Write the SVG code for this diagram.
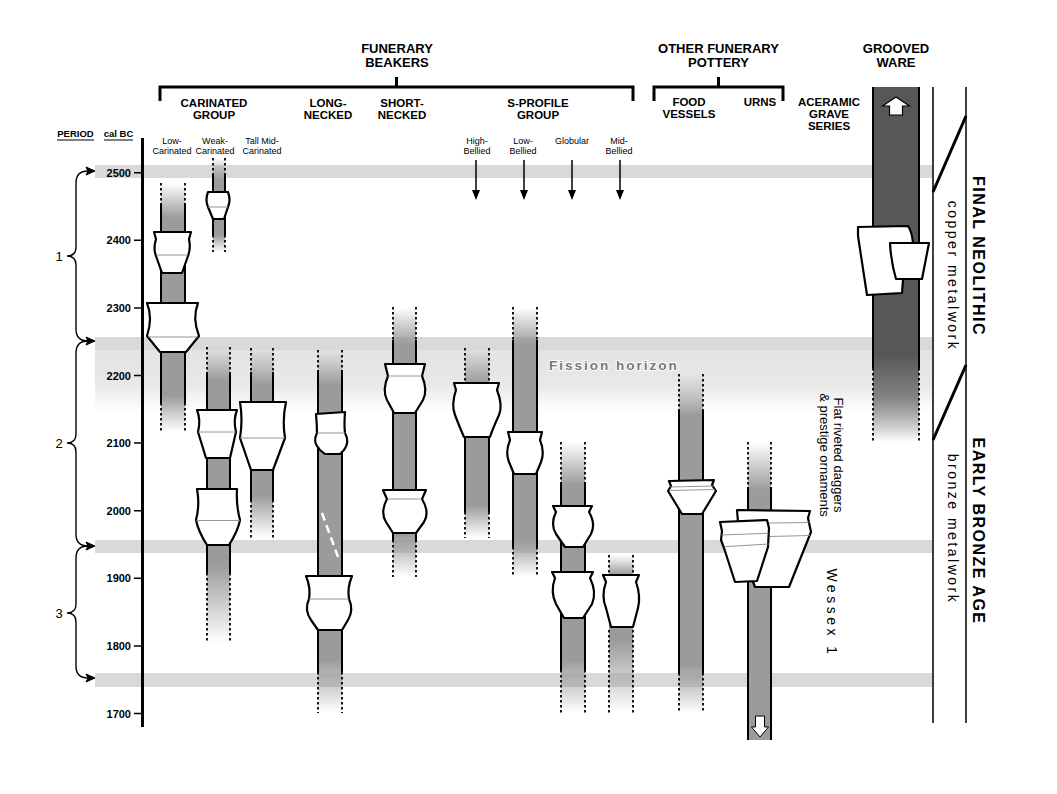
<svg xmlns="http://www.w3.org/2000/svg" width="1057" height="794" viewBox="0 0 1057 794">
<style>
text{font-family:"Liberation Sans",Arial,sans-serif;fill:#000}
.h1{font-size:13px;font-weight:bold;text-anchor:middle}
.h2{font-size:11.5px;font-weight:bold;text-anchor:middle}
.sub{font-size:9px;text-anchor:middle}
.tick{font-size:11px;font-weight:bold;text-anchor:end}
.sl{stroke:#000;stroke-width:2;fill:none}
.dl{stroke:#000;stroke-width:1.8;stroke-dasharray:2.5 2.5;fill:none}
.pot{fill:#fff;stroke:#000;stroke-width:2.2;stroke-linejoin:round}
.mid{stroke:#8a8a8a;stroke-width:0.9;fill:none}
.band{fill:#d9d9d9}
.br{stroke:#000;stroke-width:1.4;fill:none}
</style>
<defs>
<linearGradient id="fin" x1="0" y1="0" x2="0" y2="1"><stop offset="0" stop-color="#9b9b9b" stop-opacity="0"/><stop offset="1" stop-color="#9b9b9b"/></linearGradient>
<linearGradient id="fout" x1="0" y1="0" x2="0" y2="1"><stop offset="0" stop-color="#9b9b9b"/><stop offset="1" stop-color="#9b9b9b" stop-opacity="0"/></linearGradient>
<linearGradient id="gout" x1="0" y1="0" x2="0" y2="1"><stop offset="0" stop-color="#575757"/><stop offset="0.45" stop-color="#808080"/><stop offset="1" stop-color="#575757" stop-opacity="0"/></linearGradient>
<linearGradient id="fission" x1="0" y1="0" x2="0" y2="1"><stop offset="0" stop-color="#e3e3e3"/><stop offset="0.55" stop-color="#e8e8e8"/><stop offset="1" stop-color="#ffffff"/></linearGradient>
</defs>
<rect width="1057" height="794" fill="#fff"/>

<g id="bands">
<rect class="band" x="95" y="165" width="838" height="13"/>
<rect class="band" x="95" y="337" width="838" height="13"/>
<rect x="95" y="350" width="838" height="62" fill="url(#fission)"/>
<rect class="band" x="95" y="540" width="838" height="13"/>
<rect class="band" x="95" y="673" width="838" height="14"/>
</g>

<g id="headers">
<text class="h1" x="397" y="53">FUNERARY</text>
<text class="h1" x="397" y="67">BEAKERS</text>
<text class="h2" x="214" y="107">CARINATED</text>
<text class="h2" x="214" y="119">GROUP</text>
<text class="h2" x="328" y="107">LONG-</text>
<text class="h2" x="328" y="119">NECKED</text>
<text class="h2" x="402" y="107">SHORT-</text>
<text class="h2" x="402" y="119">NECKED</text>
<text class="h2" x="538" y="107">S-PROFILE</text>
<text class="h2" x="538" y="119">GROUP</text>
<text class="h1" x="718.5" y="53">OTHER FUNERARY</text>
<text class="h1" x="718.5" y="67">POTTERY</text>
<text class="h2" x="689" y="106">FOOD</text>
<text class="h2" x="689" y="118">VESSELS</text>
<text class="h2" x="760" y="106">URNS</text>
<text class="h2" x="829" y="106">ACERAMIC</text>
<text class="h2" x="829" y="118">GRAVE</text>
<text class="h2" x="829" y="130">SERIES</text>
<text class="h1" x="896" y="53">GROOVED</text>
<text class="h1" x="896" y="67">WARE</text>
<path d="M160,101V87H633V101M396.5,87V77" stroke="#000" stroke-width="3" fill="none"/>
<path d="M654,101V87H783V101M718.5,87V77" stroke="#000" stroke-width="3" fill="none"/>
<text x="75.5" y="137" style="font-size:9.5px;font-weight:bold;text-anchor:middle">PERIOD</text>
<text x="118.5" y="137" style="font-size:9.5px;font-weight:bold;text-anchor:middle">cal BC</text>
<path d="M57,140H94M104,140H133" stroke="#000" stroke-width="1"/>
<text class="sub" x="172" y="144">Low-</text><text class="sub" x="172" y="154">Carinated</text>
<text class="sub" x="215" y="144">Weak-</text><text class="sub" x="215" y="154">Carinated</text>
<text class="sub" x="262" y="144">Tall Mid-</text><text class="sub" x="262" y="154">Carinated</text>
<text class="sub" x="477" y="144">High-</text><text class="sub" x="477" y="154">Bellied</text>
<text class="sub" x="523" y="144">Low-</text><text class="sub" x="523" y="154">Bellied</text>
<text class="sub" x="572" y="144">Globular</text>
<text class="sub" x="619" y="144">Mid-</text><text class="sub" x="619" y="154">Bellied</text>
</g>

<g id="axis">
<path d="M142.5,138V727" stroke="#000" stroke-width="3"/>
<path d="M134,172.7H142M134,240.3H142M134,307.9H142M134,375.5H142M134,443.1H142M134,510.7H142M134,578.3H142M134,645.9H142M134,713.5H142" stroke="#000" stroke-width="1.5"/>
<text class="tick" x="131" y="176.7">2500</text>
<text class="tick" x="131" y="244.3">2400</text>
<text class="tick" x="131" y="311.9">2300</text>
<text class="tick" x="131" y="379.5">2200</text>
<text class="tick" x="131" y="447.1">2100</text>
<text class="tick" x="131" y="514.7">2000</text>
<text class="tick" x="131" y="582.3">1900</text>
<text class="tick" x="131" y="649.9">1800</text>
<text class="tick" x="131" y="717.5">1700</text>
</g>

<g id="periods">
<text x="59" y="261" style="font-size:13px;text-anchor:middle">1</text>
<text x="59" y="448" style="font-size:13px;text-anchor:middle">2</text>
<text x="59" y="618" style="font-size:13px;text-anchor:middle">3</text>
</g>

<g id="col-low-carinated">
<rect x="161" y="183" width="24" height="35" fill="url(#fin)"/>
<rect x="161" y="218" width="24" height="177" fill="#9b9b9b"/>
<rect x="161" y="395" width="24" height="37" fill="url(#fout)"/>
<path class="dl" d="M161,183V203M185,183V203M161,403V432M185,403V432"/>
<path class="sl" d="M161,203V403M185,203V403"/>
<path class="pot" d="M154,232L191,232L189,239Q191,249 188,256L182,273L162,273L156,256Q153,249 156,239Z"/>
<path class="mid" d="M156,255H188"/>
<path class="pot" d="M147,303L198,303Q192,318 199,336L186,352L160,352L147,336Q153,318 147,303Z"/>
<path class="mid" d="M148,337H198"/>
</g>

<g id="col-weak-carinated-early">
<rect x="213" y="158" width="12" height="22" fill="url(#fin)"/>
<rect x="213" y="180" width="12" height="55" fill="#9b9b9b"/>
<rect x="213" y="235" width="12" height="17" fill="url(#fout)"/>
<path class="dl" d="M213,158V175M225,158V175M213,235V252M225,235V252"/>
<path class="sl" d="M213,175V235M225,175V235"/>
<path class="pot" d="M208,192L228,192Q231,200 228,207L224,219L213,219L208,207Q205,200 208,192Z"/>
<path class="mid" d="M208,207H228"/>
</g>

<g id="col-weak-carinated">
<rect x="207" y="347" width="23" height="33" fill="url(#fin)"/>
<rect x="207" y="380" width="23" height="185" fill="#9b9b9b"/>
<rect x="207" y="565" width="23" height="78" fill="url(#fout)"/>
<path class="dl" d="M207,347V372M230,347V372M207,573V643M230,573V643"/>
<path class="sl" d="M207,372V573M230,372V573"/>
<path class="pot" d="M197,410L237,410Q233,420 236,432L230,458L206,458L198,432Q201,420 197,410Z"/>
<path class="mid" d="M198,432H236"/>
<path class="pot" d="M197,489L237,489Q236,505 240,520Q238,531 229,545L207,545Q198,531 196,520Q200,505 197,489Z"/>
<path class="mid" d="M196,520.5H240"/>
</g>

<g id="col-tall-mid-carinated">
<rect x="251" y="348" width="22" height="37" fill="url(#fin)"/>
<rect x="251" y="385" width="22" height="110" fill="#9b9b9b"/>
<rect x="251" y="495" width="22" height="43" fill="url(#fout)"/>
<path class="dl" d="M251,348V372M273,348V372M251,500V538M273,500V538"/>
<path class="sl" d="M251,372V500M273,372V500"/>
<path class="pot" d="M240,402L286,402Q282,420 285,438L273,470L251,470L240,438Q243,420 240,402Z"/>
<path class="mid" d="M240,438H285"/>
</g>

<g id="col-long-necked">
<rect x="318" y="350" width="24" height="35" fill="url(#fin)"/>
<rect x="318" y="385" width="24" height="275" fill="#9b9b9b"/>
<rect x="318" y="660" width="24" height="53" fill="url(#fout)"/>
<path class="dl" d="M318,350V370M342,350V370M318,672V713M342,672V713"/>
<path class="sl" d="M318,370V672M342,370V672"/>
<path class="pot" d="M316,414L345,412Q344,425 345,433Q350,442 344,450L340,454L325,454L320,450Q312,442 317,433Q317,425 316,414Z"/>
<path class="mid" d="M317,433H345"/>
<path d="M322,513L338,557" stroke="#fff" stroke-width="2.5" stroke-dasharray="8 5"/>
<path class="pot" d="M306,576L352,576Q347,588 349,599Q354,610 348,620L342,630L318,630L311,620Q304,610 309,599Q311,588 306,576Z"/>
<path class="mid" d="M309,599H349"/>
</g>

<g id="col-short-necked">
<rect x="393" y="307" width="23" height="38" fill="url(#fin)"/>
<rect x="393" y="345" width="23" height="190" fill="#9b9b9b"/>
<rect x="393" y="535" width="23" height="42" fill="url(#fout)"/>
<path class="dl" d="M393,307V340M416,307V340M393,540V577M416,540V577"/>
<path class="sl" d="M393,340V540M416,340V540"/>
<path class="pot" d="M385,364L425,364L422,376Q428,390 423,400L415,413L394,413L387,400Q382,390 388,376Z"/>
<path class="mid" d="M388,376H422"/>
<path class="pot" d="M383,490L426,490L422,499Q430,512 424,522L416,533L393,533L386,522Q380,512 387,499Z"/>
<path class="mid" d="M387,499H422"/>
</g>

<g id="col-high-bellied">
<rect x="465" y="348" width="24" height="35" fill="url(#fin)"/>
<rect x="465" y="383" width="24" height="122" fill="#9b9b9b"/>
<rect x="465" y="505" width="24" height="33" fill="url(#fout)"/>
<path class="dl" d="M465,348V382M489,348V382M465,512V538M489,512V538"/>
<path class="sl" d="M465,437V512M489,437V512"/>
<path class="pot" d="M454,383L499,383L497,390Q503,405 499,415Q493,428 490,437L464,437Q460,428 455,415Q451,405 456,390Z"/>
</g>

<g id="col-low-bellied">
<rect x="513" y="307" width="24" height="38" fill="url(#fin)"/>
<rect x="513" y="345" width="24" height="195" fill="#9b9b9b"/>
<rect x="513" y="540" width="24" height="37" fill="url(#fout)"/>
<path class="dl" d="M513,307V340M537,307V340M513,547V577M537,547V577"/>
<path class="sl" d="M513,340V547M537,340V547"/>
<path class="pot" d="M508,432L542,432L540,440Q545,452 541,462L536,474L514,474L509,462Q505,452 510,440Z"/>
</g>

<g id="col-globular">
<rect x="561" y="442" width="24" height="43" fill="url(#fin)"/>
<rect x="561" y="485" width="24" height="175" fill="#9b9b9b"/>
<rect x="561" y="660" width="24" height="53" fill="url(#fout)"/>
<path class="dl" d="M561,442V482M585,442V482M561,670V713M585,670V713"/>
<path class="sl" d="M561,482V670M585,482V670"/>
<path class="pot" d="M553,506L592,506L589,512Q596,524 591,534L583,547L565,547L556,534Q550,524 556,512Z"/>
<path class="pot" d="M552,572L593,572L590,578Q597,592 592,604L583,618L564,618L556,604Q550,592 555,578Z"/>
</g>

<g id="col-mid-bellied">
<rect x="609" y="555" width="24" height="20" fill="url(#fin)"/>
<rect x="609" y="575" width="24" height="65" fill="#9b9b9b"/>
<rect x="609" y="640" width="24" height="73" fill="url(#fout)"/>
<path class="dl" d="M609,555V573M633,555V573M609,630V713M633,630V713"/>
<path class="pot" d="M603,575L639,575L636,582Q641,596 638,608L633,627L611,627L606,608Q601,596 606,582Z"/>
</g>

<g id="col-food-vessels">
<rect x="679" y="374" width="24" height="41" fill="url(#fin)"/>
<rect x="679" y="415" width="24" height="250" fill="#9b9b9b"/>
<rect x="679" y="665" width="24" height="48" fill="url(#fout)"/>
<path class="dl" d="M679,374V410M703,374V410M679,673V713M703,673V713"/>
<path class="sl" d="M679,410V673M703,410V673"/>
<path class="pot" d="M669,481L714,480L712,485L716,491L702,514L682,514L668,491L671,486Z"/>
<path class="mid" d="M670,487L713,486M669,490.5L715,489.5"/>
</g>

<g id="col-urns">
<rect x="748" y="442" width="23" height="48" fill="url(#fin)"/>
<rect x="748" y="490" width="23" height="250" fill="#9b9b9b"/>
<path class="dl" d="M748,442V487M771,442V487"/>
<path class="sl" d="M748,487V740M771,487V740"/>
<path d="M755.5,716H764.5V727H768.5L760,737L751.5,727H755.5Z" fill="#fff" stroke="#000" stroke-width="1"/>
<path class="pot" d="M737,510L810,511L808,518L811,532L789,587L755,587L745,560L738,522Z"/>
<path class="mid" d="M769,523L809,522.5M769,536.5L810,535.5"/>
<path class="pot" d="M720,522L767,520L769,528L768,547L757,581L735,582L724,548L721,540L722,531Z"/>
<path class="mid" d="M721.5,535L768.5,533.3M724,546.7L769,544"/>
</g>

<g id="col-grooved-ware">
<rect x="873" y="87" width="46" height="268" fill="#575757"/>
<rect x="873" y="355" width="46" height="87" fill="url(#gout)"/>
<path class="sl" d="M873,87V368M919,87V368" stroke-width="1.5"/>
<path class="dl" d="M873,368V442M919,368V442"/>
<path d="M889.5,115V106H882.5L896,97L909.5,106H902.5V115Z" fill="#fff" stroke="#000" stroke-width="1.2"/>
<path class="pot" d="M858,227L908,226Q912,232 913,243L903,280L902,293L867,295Q862,262 858,236Z"/>
<path class="pot" d="M890,243L929,243L922,279L896,279Q891,262 890,243Z"/>
</g>

<g id="fission-label">
<text x="549" y="370" style="font-size:13.5px;font-weight:bold;letter-spacing:2px;fill:#777;stroke:#fff;stroke-width:2px;paint-order:stroke">Fission horizon</text>
</g>

<g id="annotations">
<text transform="translate(834,455) rotate(90)" style="font-size:13px;text-anchor:middle">Flat riveted daggers</text>
<text transform="translate(820,455) rotate(90)" style="font-size:13px;text-anchor:middle">&amp; prestige ornaments</text>
<text transform="translate(827,613) rotate(90)" style="font-size:14px;letter-spacing:3.5px;text-anchor:middle">Wessex 1</text>
</g>

<g id="periods-right">
<path d="M933,87V723M966,87V723" stroke="#000" stroke-width="1.5"/>
<path d="M933,192L966,116M933,440L966,365" stroke="#000" stroke-width="3"/>
<text transform="translate(973,256) rotate(90)" style="font-size:16px;font-weight:bold;letter-spacing:1.5px;text-anchor:middle">FINAL NEOLITHIC</text>
<text transform="translate(947.5,276) rotate(90)" style="font-size:14px;letter-spacing:2.5px;text-anchor:middle">copper metalwork</text>
<text transform="translate(973,531) rotate(90)" style="font-size:16px;font-weight:bold;letter-spacing:1.5px;text-anchor:middle">EARLY BRONZE AGE</text>
<text transform="translate(947.5,529) rotate(90)" style="font-size:14px;letter-spacing:2.5px;text-anchor:middle">bronze metalwork</text>
</g>

<g id="connectors">
<path class="br" d="M88,171Q76,171 76,183V247Q76,256 67,256Q76,256 76,265V329Q76,341 88,341"/>
<path class="br" d="M88,341Q76,341 76,353V434Q76,443 67,443Q76,443 76,452V534Q76,546 88,546"/>
<path class="br" d="M88,546Q76,546 76,558V604Q76,613 67,613Q76,613 76,622V666Q76,678 88,678"/>
<path d="M95,171L86,167L88,171L86,175ZM95,341L86,337L88,341L86,345ZM95,546L86,542L88,546L86,550ZM95,678L86,674L88,678L86,682Z" fill="#000" stroke="#000" stroke-width="1"/>
<path d="M476,160V192M524,160V192M572,160V192M620,160V192" stroke="#000" stroke-width="1.5"/>
<path d="M476,200L472,190H480ZM524,200L520,190H528ZM572,200L568,190H576ZM620,200L616,190H624Z" fill="#000"/>
</g>
</svg>
